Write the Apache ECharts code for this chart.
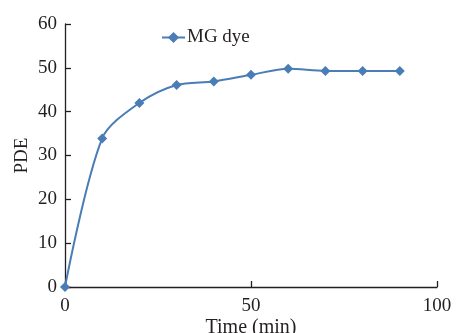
<!DOCTYPE html>
<html><head><meta charset="utf-8">
<script src="https://cdn.jsdelivr.net/npm/echarts@6/dist/echarts.min.js"></script>
<style>html,body{margin:0;padding:0;background:#fff}#c{width:456px;height:333px}</style>
</head><body><div id="c"></div>
<script>
const times = [0, 10, 20, 30, 40, 50, 60, 70, 80, 90];
const pde = [0, 33.9, 42.0, 46.1, 46.9, 48.4, 49.8, 49.3, 49.3, 49.3];
const seriesName = 'MG dye';
const xTicks = [0, 50, 100];
const yTicks = [0, 10, 20, 30, 40, 50, 60];

const font = 'Liberation Serif';
const txt = '#231f20';
const blue = '#4a7db5';
const chart = echarts.init(document.getElementById('c'), null, {renderer: 'canvas'});
chart.setOption({
  animation: false,
  grid: {left: 65, right: 19, top: 24, bottom: 46, containLabel: false, outerBoundsMode: 'none'},
  legend: {
    show: true, left: 156, top: 23, itemWidth: 23, itemHeight: 14, itemGap: 4,
    data: [seriesName],
    textStyle: {fontFamily: font, fontSize: 19, color: txt, padding: [0, 0, 0, -3]}
  },
  xAxis: {
    type: 'value', min: xTicks[0], max: xTicks[xTicks.length - 1], interval: 50,
    name: 'Time (min)', nameLocation: 'middle', nameGap: 31, nameMoveOverlap: false,
    nameTextStyle: {fontFamily: font, fontSize: 20, color: txt},
    axisLine: {show: true, lineStyle: {color: txt, width: 1.3}},
    axisTick: {show: true, inside: true, length: 6, lineStyle: {color: txt, width: 1.3}},
    axisLabel: {fontFamily: font, fontSize: 19, color: txt, margin: 10},
    splitLine: {show: false}
  },
  yAxis: {
    type: 'value', min: yTicks[0], max: yTicks[yTicks.length - 1], interval: 10,
    name: 'PDE', nameLocation: 'middle', nameGap: 33, nameMoveOverlap: false,
    nameTextStyle: {fontFamily: font, fontSize: 19, color: txt},
    axisLine: {show: true, lineStyle: {color: txt, width: 1.3}},
    axisTick: {show: true, inside: true, length: 6, lineStyle: {color: txt, width: 1.3}},
    axisLabel: {fontFamily: font, fontSize: 19, color: txt, margin: 8},
    splitLine: {show: false}
  },
  series: [{
    name: seriesName, type: 'line', smooth: 0.3,
    data: times.map((t, i) => [t, pde[i]]),
    symbol: 'diamond', symbolSize: 10, showSymbol: true,
    lineStyle: {color: blue, width: 2},
    itemStyle: {color: blue}
  }]
});
</script></body></html>
